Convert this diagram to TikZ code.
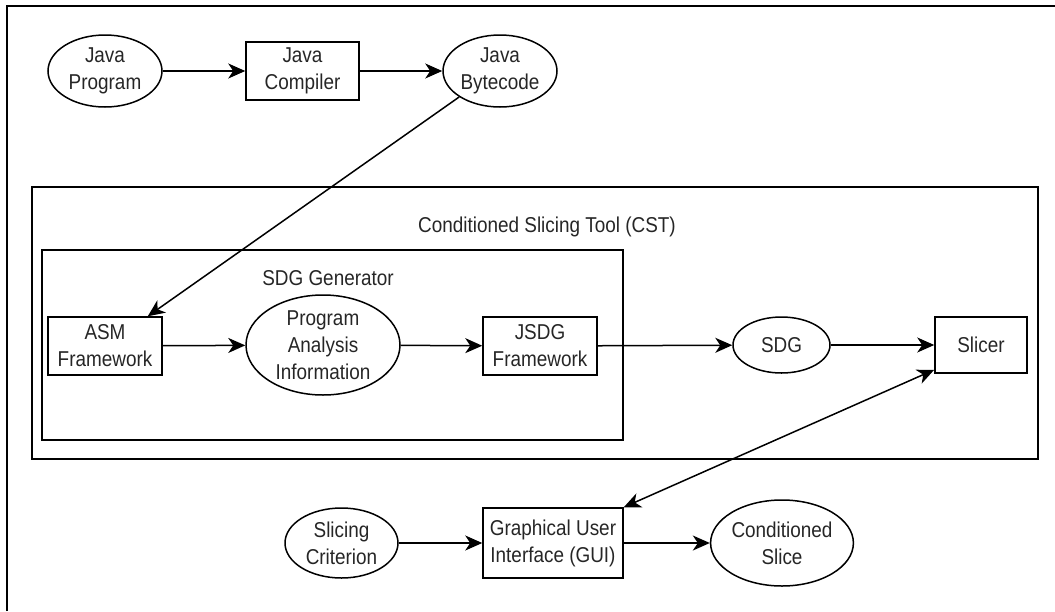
\documentclass[tikz,border=0pt]{standalone}
\usepackage{fontspec}
\setmainfont{Liberation Sans}[FakeStretch=0.88]
\usetikzlibrary{shapes.geometric,arrows.meta}

\tikzset{
  tip/.tip={Stealth[length=17pt,width=15pt,inset=5pt]},
  lbl/.style={font=\fontsize{21.5}{27}\selectfont, text=black!85, align=center},
  proc/.style={lbl, draw=black, line width=1.5pt, rectangle, inner sep=0pt},
  data/.style={lbl, draw=black, line width=1.5pt, ellipse, inner sep=0pt},
  frame/.style={draw=black, line width=1.5pt},
  flow/.style={draw=black, line width=1.5pt, -tip},
  bothflow/.style={draw=black, line width=1.5pt, tip-tip}
}

\begin{document}
\begin{tikzpicture}[x=1pt, y=-1pt]
  \useasboundingbox (0,0) rectangle (1055,611);

  % page border (left and top)
  \draw[frame, line width=1.8pt] (7,611) -- (7,6) -- (1055,6);

  % tool and generator frames
  \draw[frame] (32,187) rectangle (1038,459);
  \draw[frame] (42,250) rectangle (623,440);
  \node[lbl] (cstlabel) at (547,227) {Conditioned Slicing Tool (CST)};
  \node[lbl] (sdglabel) at (328,278) {SDG Generator};

  % compilation chain
  \node[data, minimum width=114pt, minimum height=72pt] (jprog) at (105,71) {Java\\Program};
  \node[proc, minimum width=113pt, minimum height=58pt] (jcomp) at (302.5,71) {Java\\Compiler};
  \node[data, minimum width=114pt, minimum height=72pt] (jbyte) at (500,71) {Java\\Bytecode};

  % slicing tool components
  \node[proc, minimum width=114pt, minimum height=58pt] (asm) at (105,346) {ASM\\Framework};
  \node[data, minimum width=154pt, minimum height=100pt] (pai) at (323,345) {Program\\Analysis\\Information};
  \node[proc, minimum width=114pt, minimum height=58pt] (jsdg) at (540,346) {JSDG\\Framework};
  \node[data, minimum width=97pt, minimum height=56pt] (sdg) at (781.5,345) {SDG};
  \node[proc, minimum width=92pt, minimum height=56pt] (slicer) at (981,345) {Slicer};

  % user side
  \node[data, minimum width=113pt, minimum height=70pt] (crit) at (341.5,543) {Slicing\\Criterion};
  \node[proc, minimum width=140pt, minimum height=70pt] (gui) at (553,543) {Graphical User\\Interface (GUI)};
  \node[data, minimum width=134pt, minimum height=86pt] (cslice) at (782,543) {Conditioned\\Slice};

  % connectors
  \draw[flow] (jprog) -- (jcomp);
  \draw[flow] (jcomp) -- (jbyte);
  \draw[flow] (jbyte.south west) -- ([xshift=-15pt]asm.north east);
  \draw[flow] (asm) -- (pai);
  \draw[flow] (pai) -- (jsdg);
  \draw[flow] (jsdg) -- (sdg);
  \draw[flow] (sdg) -- (slicer);
  \draw[bothflow] (gui.north east) -- ([yshift=4pt]slicer.south west);
  \draw[flow] (crit) -- (gui);
  \draw[flow] (gui) -- (cslice);
\end{tikzpicture}
\end{document}
